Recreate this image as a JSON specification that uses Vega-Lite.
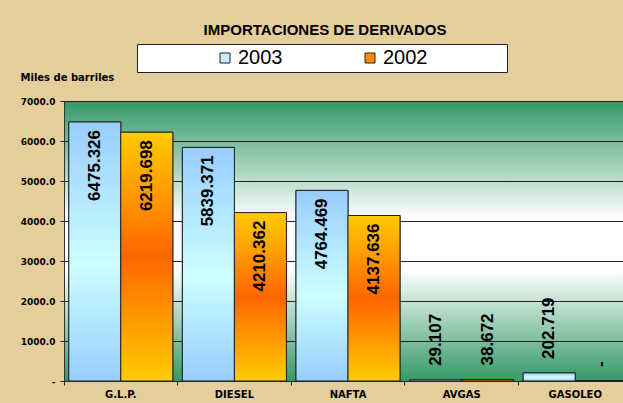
{
  "$schema": "https://vega.github.io/schema/vega-lite/v6.json",
  "autosize": "none",
  "width": 568,
  "height": 280,
  "padding": {"left": 64, "top": 101, "right": -9, "bottom": 22},
  "background": "#E4CF9C",
  "title": {
    "text": "IMPORTACIONES DE DERIVADOS",
    "font": "Liberation Sans",
    "fontSize": 15,
    "fontWeight": "bold",
    "color": "black",
    "anchor": "middle",
    "frame": "group",
    "dx": -23,
    "offset": 6
  },
  "config": {
    "view": {
      "fill": {"gradient": "linear", "x1": 0, "y1": 0, "x2": 0, "y2": 1,
        "stops": [
          {"offset": 0, "color": "#339966"},
          {"offset": 0.42, "color": "#ffffff"},
          {"offset": 0.6, "color": "#ffffff"},
          {"offset": 1, "color": "#339966"}
        ]},
      "stroke": "#333333",
      "strokeWidth": 1
    }
  },
  "data": {"values": [
    {"cat": "G.L.P.", "year": "2003", "value": 6475.326, "label": "6475.326"},
    {"cat": "G.L.P.", "year": "2002", "value": 6219.698, "label": "6219.698"},
    {"cat": "DIESEL", "year": "2003", "value": 5839.371, "label": "5839.371"},
    {"cat": "DIESEL", "year": "2002", "value": 4210.362, "label": "4210.362"},
    {"cat": "NAFTA", "year": "2003", "value": 4764.469, "label": "4764.469"},
    {"cat": "NAFTA", "year": "2002", "value": 4137.636, "label": "4137.636"},
    {"cat": "AVGAS", "year": "2003", "value": 29.107, "label": "29.107"},
    {"cat": "AVGAS", "year": "2002", "value": 38.672, "label": "38.672"},
    {"cat": "GASOLEO", "year": "2003", "value": 202.719, "label": "202.719"},
    {"cat": "GASOLEO", "year": "2002", "value": 0, "label": "-"}
  ]},
  "encoding": {
    "x": {
      "field": "cat", "type": "nominal",
      "sort": ["G.L.P.", "DIESEL", "NAFTA", "AVGAS", "GASOLEO"],
      "scale": {"paddingInner": 0, "paddingOuter": 0},
      "axis": {
        "title": null, "bandPosition": 0, "labelAngle": 0,
        "labelFont": "DejaVu Sans", "labelFontSize": 10, "labelFontWeight": "bold", "labelColor": "black",
        "labelPadding": 4, "tickSize": 4, "tickColor": "#222", "domainColor": "#222"
      }
    },
    "xOffset": {
      "field": "year", "type": "nominal", "sort": ["2003", "2002"],
      "scale": {"paddingOuter": 0.092, "paddingInner": 0}
    },
    "y": {
      "field": "value", "type": "quantitative",
      "scale": {"domain": [0, 7000], "nice": false},
      "axis": {
        "values": [0, 1000, 2000, 3000, 4000, 5000, 6000, 7000],
        "labelExpr": "datum.value == 0 ? '-' : format(datum.value, '.1f')",
        "labelFont": "DejaVu Sans", "labelFontSize": 9, "labelFontWeight": "bold", "labelColor": "black",
        "labelPadding": 5, "tickSize": 4, "tickColor": "#222", "domainColor": "#333",
        "grid": true, "gridColor": "#222", "gridWidth": 1,
        "title": "Miles de barriles", "titleAngle": 0, "titleX": -44, "titleY": -21,
        "titleAlign": "left", "titleBaseline": "alphabetic",
        "titleFont": "DejaVu Sans", "titleFontSize": 10, "titleFontWeight": "bold", "titleColor": "black"
      }
    }
  },
  "layer": [
    {
      "mark": {"type": "bar", "stroke": "#222", "strokeWidth": 1},
      "encoding": {
        "color": {
          "field": "year", "type": "nominal",
          "scale": {"domain": ["2003", "2002"], "range": ["#c6ecff", "#ff8a00"]},
          "legend": {
            "title": "\u00a0", "titleOrient": "left", "titlePadding": 74, "titleFontSize": 20,
            "orient": "none", "legendX": 73, "legendY": -57, "direction": "horizontal",
            "fillColor": "white", "strokeColor": "#222", "padding": 4, "columnPadding": 77,
            "symbolType": "square", "symbolSize": 100, "symbolStrokeColor": "#222", "symbolStrokeWidth": 1,
            "labelFont": "Liberation Sans", "labelFontSize": 20, "labelColor": "black", "labelOffset": 3,
            "labelLimit": 400,
            "labelExpr": "datum.label == '2002' ? datum.label + '\u2800\u2800\u2800\u2800\u2800' : datum.label"
          }
        }
      }
    },
    {
      "mark": {"type": "bar", "stroke": "#222", "strokeWidth": 1},
      "encoding": {
        "fill": {
          "condition": {"test": "datum.year == '2003'", "value": {"gradient": "linear", "x1": 0, "y1": 0, "x2": 0, "y2": 1,
            "stops": [{"offset": 0, "color": "#99ccff"}, {"offset": 0.55, "color": "#ccffff"}, {"offset": 1, "color": "#99ccff"}]}},
          "value": {"gradient": "linear", "x1": 0, "y1": 0, "x2": 0, "y2": 1,
            "stops": [{"offset": 0, "color": "#ffcc00"}, {"offset": 0.5, "color": "#ff6600"}, {"offset": 1, "color": "#ffcc00"}]}
        }
      }
    },
    {
      "transform": [{"filter": "datum.value >= 1000"}],
      "mark": {"type": "text", "angle": 270, "align": "right", "baseline": "middle", "dx": -8,
        "font": "Liberation Sans", "fontSize": 17, "fontWeight": "bold", "color": "black"},
      "encoding": {"text": {"field": "label"}}
    },
    {
      "transform": [{"filter": "datum.value < 1000"}],
      "mark": {"type": "text", "angle": 270, "align": "left", "baseline": "middle", "dx": 14,
        "font": "Liberation Sans", "fontSize": 17, "fontWeight": "bold", "color": "black"},
      "encoding": {"text": {"field": "label"}}
    }
  ]
}
